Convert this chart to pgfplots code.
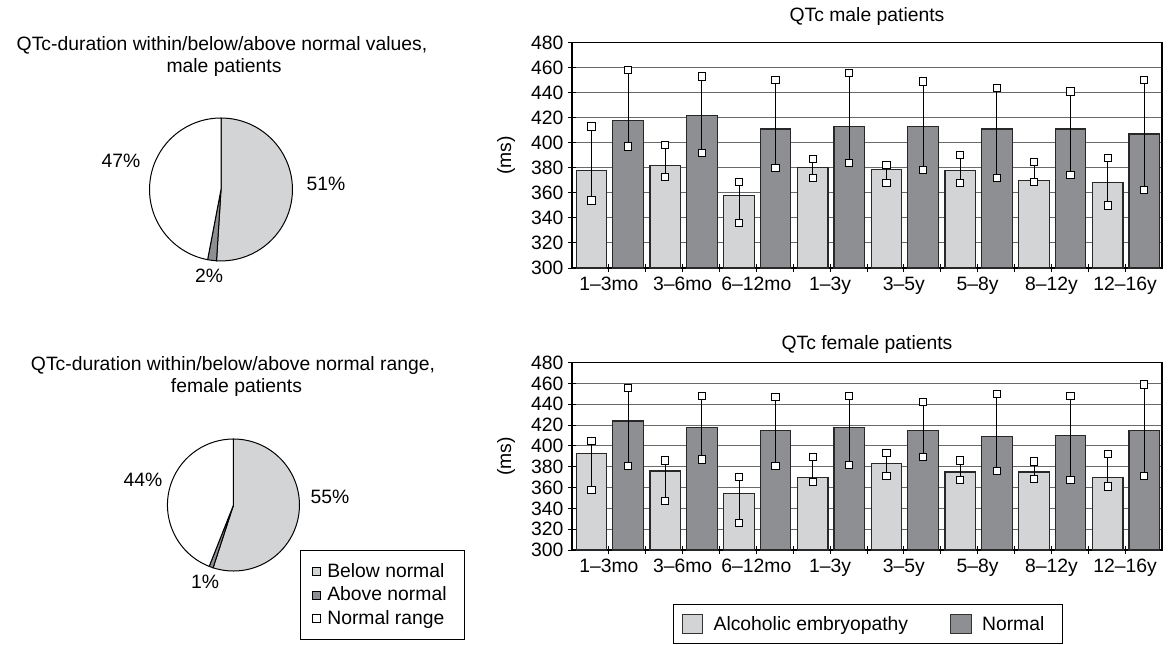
\documentclass[border=0pt]{standalone}
\usepackage{fontspec}
\setmainfont{Liberation Sans}
\usepackage{pgfplots}
\usepackage{pgfplotstable}
\pgfplotsset{compat=1.18}

\definecolor{aecol}{RGB}{211,212,214}
\definecolor{nocol}{RGB}{142,143,146}
\definecolor{edgecol}{RGB}{40,40,40}
\definecolor{gridcol}{RGB}{105,105,105}
\newcommand{\F}{\fontsize{14.5}{17}\selectfont}

% group, AE bar, AE low, AE high, Normal bar, Normal low, Normal high
\pgfplotstableread{
g ae aelo aehi no nolo nohi
0 378 354 413 418 397 458
1 382 373 398 422 392 453
2 358 336 369 411 380 450
3 380 372 387 413 384 456
4 379 368 382 413 378 449
5 378 368 390 411 372 444
6 370 369 385 411 374 441
7 368 350 388 407 362 450
}\maletab

\pgfplotstableread{
g ae aelo aehi no nolo nohi
0 393 358 405 424 381 456
1 376 347 386 418 387 448
2 354 326 370 415 381 447
3 370 365 389 418 382 448
4 383 371 393 415 389 442
5 375 367 386 409 376 450
6 375 368 385 410 367 448
7 370 361 392 415 371 459
}\femaletab

\pgfplotsset{
 qtcbar/.style={
   scale only axis, width=442.5pt, xmin=0, xmax=8, ymin=300, ymax=480,
   ytick={300,320,...,480},
   xtick={0.5,1.5,...,7.5},
   xticklabels={1–3mo,3–6mo,6–12mo,1–3y,3–5y,5–8y,8–12y,12–16y},
   minor xtick={1,2,...,7},
   tick pos=left,
   tick align=center, major tick length=6pt, minor tick length=6pt,
   tick style={black, line width=0.75pt},
   ymajorgrids, grid style={gridcol, line width=0.75pt},
   axis line style={black, line width=0.9pt},
   ylabel={(ms)}, ylabel shift=5pt,
   /pgf/number format/assume math mode=true,
   tick label style={font=\F, black},
   label style={font=\F},
 },
 aebar/.style={ybar, bar width=0.415, bar shift=0pt, fill=aecol, draw=edgecol, line width=0.9pt, forget plot},
 nobar/.style={ybar, bar width=0.415, bar shift=0pt, fill=nocol, draw=edgecol, line width=0.9pt, forget plot},
 rng/.style={forget plot, only marks, mark=square*, mark size=2.7pt,
   mark options={fill=white, draw=black, line width=0.75pt, solid},
   error bars/.cd, y dir=plus, y explicit, error mark=square*,
   error mark options={fill=white, draw=black, line width=0.75pt, mark size=2.7pt},
   error bar style={black, line width=0.75pt}},
 pieax/.style={hide axis, scale only axis, xmin=-1, xmax=1, ymin=-1, ymax=1, clip=false},
}

\newcommand{\slice}[4]{%
 \filldraw[fill=#1, draw=black, line width=0.75pt] (axis cs:0,0) -- ++({#2}:#4)
   arc[start angle={#2}, end angle={#3}, radius=#4] -- cycle;}
\newcommand{\T}[3]{\node[font=\F, anchor=base, inner sep=0pt] at ({#1*0.75pt},{-(#2+7)*0.75pt}) {#3};}

\begin{document}
\begin{tikzpicture}
\useasboundingbox (0,0) rectangle (876pt,-483pt);

% ---------- male pie ----------
\begin{axis}[pieax, width=107.25pt, height=107.25pt, at={(165.75pt,-142.1pt)}, anchor=center]
\slice{aecol}{90}{90-51*3.6}{53.6pt}
\slice{nocol}{90-51*3.6}{90-53*3.6}{53.6pt}
\slice{white}{90-53*3.6}{-270}{53.6pt}
\end{axis}

% ---------- female pie ----------
\begin{axis}[pieax, width=99pt, height=99pt, at={(175.1pt,-378.75pt)}, anchor=center,
  legend cell align=left,
  legend style={at={(1.004,0.159)}, anchor=north west, draw=black, line width=0.75pt,
    inner xsep=9pt, inner ysep=7.5pt, row sep=1.8pt, font=\F,
    nodes={inner xsep=4.5pt}}]
\slice{aecol}{90}{90-55*3.6}{49.5pt}
\slice{nocol}{90-55*3.6}{90-56*3.6}{49.5pt}
\slice{white}{90-56*3.6}{-270}{49.5pt}
\addlegendimage{legend image code/.code={\draw[fill=aecol, draw=black, line width=0.6pt] (0pt,-3pt) rectangle (6pt,3pt);}}
\addlegendentry{Below normal}
\addlegendimage{legend image code/.code={\draw[fill=nocol, draw=black, line width=0.6pt] (0pt,-3pt) rectangle (6pt,3pt);}}
\addlegendentry{Above normal}
\addlegendimage{legend image code/.code={\draw[fill=white, draw=black, line width=0.6pt] (0pt,-3pt) rectangle (6pt,3pt);}}
\addlegendentry{Normal range}
\end{axis}

% ---------- male bars ----------
\begin{axis}[qtcbar, height=169pt, at={(429pt,-201pt)}, anchor=south west]
\addplot[aebar] table[x expr=\thisrow{g}+0.265, y=ae] {\maletab};
\addplot[nobar] table[x expr=\thisrow{g}+0.76, y=no] {\maletab};
\addplot[rng] table[x expr=\thisrow{g}+0.265, y=aelo, y error plus expr=\thisrow{aehi}-\thisrow{aelo}] {\maletab};
\addplot[rng] table[x expr=\thisrow{g}+0.76, y=nolo, y error plus expr=\thisrow{nohi}-\thisrow{nolo}] {\maletab};
\end{axis}

% ---------- female bars ----------
\begin{axis}[qtcbar, height=140.5pt, at={(429pt,-412.5pt)}, anchor=south west,
  legend columns=2, legend cell align=left,
  legend style={at={(0.1717,-0.288)}, anchor=north west, draw=black, line width=0.75pt,
    inner xsep=6pt, inner ysep=6.7pt, font=\F,
    nodes={inner xsep=7.6pt},
    /tikz/every even column/.append style={column sep=24pt}}]
\addplot[aebar] table[x expr=\thisrow{g}+0.265, y=ae] {\femaletab};
\addplot[nobar] table[x expr=\thisrow{g}+0.76, y=no] {\femaletab};
\addplot[rng] table[x expr=\thisrow{g}+0.265, y=aelo, y error plus expr=\thisrow{aehi}-\thisrow{aelo}] {\femaletab};
\addplot[rng] table[x expr=\thisrow{g}+0.76, y=nolo, y error plus expr=\thisrow{nohi}-\thisrow{nolo}] {\femaletab};
\addlegendimage{legend image code/.code={\draw[fill=aecol, draw=black!80, line width=0.75pt] (0pt,-7.2pt) rectangle (15.5pt,7.2pt);}}
\addlegendentry{Alcoholic embryopathy}
\addlegendimage{legend image code/.code={\draw[fill=nocol, draw=black!80, line width=0.75pt] (0pt,-7.2pt) rectangle (15.5pt,7.2pt);}}
\addlegendentry{Normal}
\end{axis}

% ---------- texts ----------
\T{222}{43}{QTc-duration within/below/above normal values,}
\T{224}{65}{male patients}
\T{233}{363}{QTc-duration within/below/above normal range,}
\T{236.5}{385}{female patients}
\T{121}{160}{47\%}
\T{326}{183}{51\%}
\T{209}{275}{2\%}
\T{143}{479}{44\%}
\T{330}{496}{55\%}
\T{205}{581}{1\%}
\T{867}{14}{QTc male patients}
\T{867}{342}{QTc female patients}
\end{tikzpicture}
\end{document}
